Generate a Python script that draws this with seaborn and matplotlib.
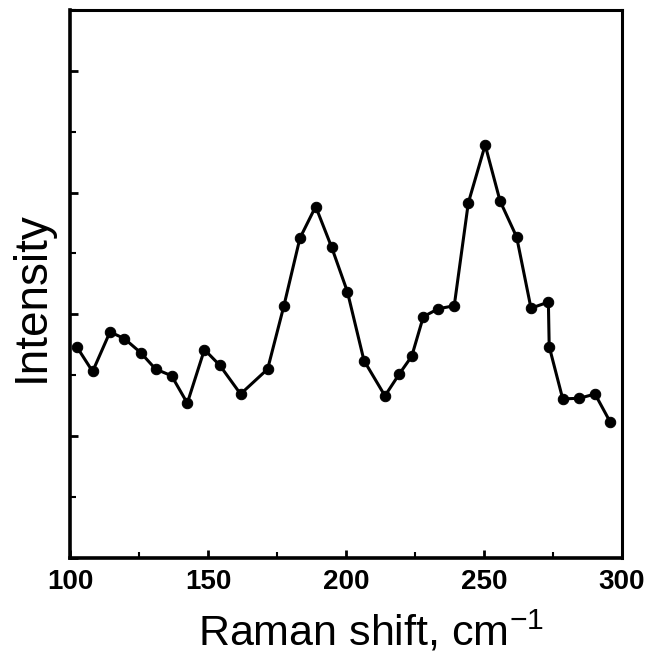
import numpy as np
import pandas as pd
import matplotlib
matplotlib.use("Agg")
import matplotlib.pyplot as plt
from matplotlib.ticker import MultipleLocator, NullFormatter
import seaborn as sns

# values (arbitrary intensity units)
raman_shift = [102.4, 108.2, 114.5, 119.7, 125.6, 131.0, 136.8, 142.5, 148.7, 154.3,
               161.8, 171.6, 177.5, 183.3, 189.0, 194.8, 200.5, 206.5, 214.1, 219.3,
               223.8, 228.0, 233.4, 239.2, 244.3, 250.4, 255.8, 261.8, 267.0, 273.3,
               273.6, 278.5, 284.5, 290.2, 295.7]
intensity = [3.47, 3.06, 3.71, 3.60, 3.37, 3.10, 2.99, 2.54, 3.42, 3.16,
             2.69, 3.10, 4.14, 5.25, 5.77, 5.10, 4.37, 3.24, 2.66, 3.02,
             3.31, 3.96, 4.09, 4.14, 5.83, 6.78, 5.86, 5.27, 4.10, 4.20,
             3.47, 2.61, 2.62, 2.69, 2.23]

df = pd.DataFrame({"shift": raman_shift, "intensity": intensity})

sns.set_style("ticks", {"axes.edgecolor": "black", "xtick.color": "black",
                        "ytick.color": "black", "text.color": "black",
                        "axes.labelcolor": "black"})
plt.rcParams["font.family"] = ["Liberation Sans", "DejaVu Sans"]
plt.rcParams["mathtext.default"] = "regular"

fig = plt.figure(figsize=(6.48, 6.57), dpi=100)
ax = fig.add_axes([0.108, 0.151, 0.852, 0.834])

sns.lineplot(data=df, x="shift", y="intensity", ax=ax, color="black",
             linewidth=2.2, marker="o", markersize=7.5, markeredgecolor="black",
             sort=False)

ax.set_xlim(100, 300)
ax.set_ylim(0, 9)
ax.xaxis.set_major_locator(MultipleLocator(50))
ax.xaxis.set_minor_locator(MultipleLocator(25))
ax.yaxis.set_major_locator(MultipleLocator(2))
ax.yaxis.set_minor_locator(MultipleLocator(1))
ax.yaxis.set_major_formatter(NullFormatter())

ax.tick_params(axis="both", which="major", direction="in", length=6, width=2)
ax.tick_params(axis="both", which="minor", direction="in", length=4, width=1.5)
ax.tick_params(axis="x", labelsize=20, pad=8)
for lbl in ax.get_xticklabels():
    lbl.set_fontweight("bold")

for side in ["left", "bottom"]:
    ax.spines[side].set_linewidth(2.6)
for side in ["top", "right"]:
    ax.spines[side].set_linewidth(2.2)

ax.set_xlabel("Raman shift, cm$^{-1}$", fontsize=31)
ax.set_ylabel("Intensity", fontsize=33)
ax.xaxis.set_label_coords(0.545, -0.093)
ax.yaxis.set_label_coords(-0.03, 0.476)

fig.savefig("out.png", dpi=100)
